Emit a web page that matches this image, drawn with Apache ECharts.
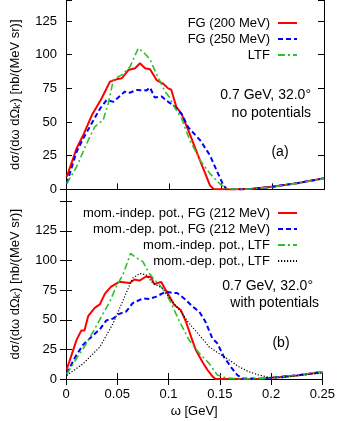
<!DOCTYPE html>
<html>
<head>
<meta charset="utf-8">
<script src="https://cdn.jsdelivr.net/npm/echarts@6/dist/echarts.min.js"></script>
<style>
  html, body { margin: 0; padding: 0; background: #fff; }
  #chart { width: 338px; height: 421px; }
</style>
</head>
<body>
<div id="chart"></div>
<script>
// panel (a): no potentials
const fg200 = [
  [0.0007, 9.4], [0.0103, 30.5], [0.0168, 40.4], [0.025, 55], [0.0346, 67.7], [0.0426, 80],
  [0.049, 81.7], [0.054, 82.5], [0.0604, 88.6], [0.067, 89.9], [0.0717, 93.6], [0.0766, 89.9],
  [0.0814, 89.2], [0.088, 81], [0.094, 78.6], [0.099, 75], [0.102, 74], [0.107, 61], [0.112, 56],
  [0.12, 41], [0.128, 25], [0.135, 11.7], [0.1395, 3], [0.143, 0.3], [0.16, 0], [0.18, 0.5],
  [0.2, 2], [0.225, 4.8], [0.25, 8.2]
];
const fg250 = [
  [0.0007, 4.4], [0.0103, 28], [0.0168, 38], [0.023, 46.4], [0.033, 60], [0.0394, 66.4],
  [0.046, 65], [0.057, 72.6], [0.0604, 71.4], [0.0685, 73.8], [0.078, 73.5], [0.0814, 75.6],
  [0.086, 68.2], [0.0927, 69], [0.099, 65], [0.104, 62.5], [0.112, 56], [0.1185, 46],
  [0.13, 36.5], [0.1395, 25.3], [0.146, 14], [0.1525, 3], [0.1557, 0.3], [0.17, 0], [0.18, 0.5],
  [0.2, 2], [0.225, 4.8], [0.25, 8.2]
];
const ltf = [
  [0.0007, 4.2], [0.0103, 16.8], [0.02, 34], [0.028, 46.6], [0.036, 51.5], [0.041, 64],
  [0.046, 81.6], [0.054, 85], [0.062, 91], [0.07, 104.8], [0.075, 102], [0.0814, 96.5],
  [0.088, 85], [0.096, 72.6], [0.101, 67.7], [0.104, 62.5], [0.112, 52.6], [0.12, 36.5],
  [0.13, 21.6], [0.1395, 11.7], [0.149, 4.2], [0.1557, 0.5], [0.17, 0], [0.18, 0.5],
  [0.2, 1.8], [0.225, 4.6], [0.25, 8]
];

// panel (b): with potentials
const indepFg = [
  [0.0007, 8], [0.0103, 33], [0.015, 41], [0.018, 41], [0.0216, 53], [0.028, 60], [0.033, 63],
  [0.038, 72], [0.044, 78], [0.052, 82], [0.062, 81], [0.067, 84], [0.0717, 83], [0.078, 86.5],
  [0.083, 86], [0.086, 80], [0.0927, 82], [0.096, 77], [0.101, 69.5], [0.1056, 62.5],
  [0.112, 58.2], [0.117, 48.3], [0.122, 35.5], [0.1266, 24.5], [0.133, 14.6], [0.138, 7.6],
  [0.143, 2], [0.146, 0], [0.19, 0.3], [0.2, 1], [0.225, 3], [0.25, 6]
];
const depFg = [
  [0.0007, 4.8], [0.01, 20], [0.0168, 29], [0.0265, 37], [0.033, 42], [0.0394, 49.5],
  [0.046, 51], [0.052, 55], [0.0588, 57], [0.065, 64], [0.075, 68], [0.081, 67.6],
  [0.088, 69.5], [0.0975, 73.7], [0.104, 72.5], [0.1085, 72.5], [0.117, 66.7], [0.1233, 61.2],
  [0.13, 56.8], [0.136, 48.3], [0.1427, 34.3], [0.1476, 30.1], [0.154, 18.7], [0.1606, 10.4],
  [0.167, 3.4], [0.1718, 0.5], [0.19, 0.3], [0.2, 1], [0.225, 3], [0.25, 6]
];
const indepLtf = [
  [0.0007, 4], [0.01, 17], [0.02, 30], [0.0297, 45], [0.036, 55], [0.0426, 65], [0.049, 78],
  [0.0555, 88], [0.063, 106], [0.0668, 103.3], [0.075, 99], [0.081, 89.3], [0.088, 82.2],
  [0.094, 76.6], [0.101, 66.7], [0.11, 49.8], [0.12, 33], [0.13, 21.7], [0.1395, 13.2],
  [0.1476, 3.4], [0.1557, 1], [0.17, 0], [0.19, 0.3], [0.2, 1], [0.225, 3], [0.25, 6]
];
const depLtf = [
  [0.0007, 3], [0.0168, 13], [0.033, 27], [0.046, 47], [0.0555, 66], [0.065, 85], [0.0717, 89],
  [0.078, 88], [0.0846, 81], [0.094, 76.6], [0.0975, 72.4], [0.104, 65.1], [0.112, 56.8],
  [0.12, 47], [0.13, 37.1], [0.1395, 27.2], [0.149, 21.7], [0.159, 16.1], [0.1686, 10.4],
  [0.178, 6.2], [0.188, 3.4], [0.198, 1.4], [0.211, 1], [0.225, 2.8], [0.25, 5]
];

const xTicks = { min: 0, max: 0.25, interval: 0.05 };
// top panel is cut off at the top edge of the figure
const yTicksTop = { min: 0, max: 140.6, interval: 25 };
const yTicksBottom = { min: 0, max: 160, interval: 25 };

const FONT = 'Liberation Sans, Arial, sans-serif';
const yName = 'dσ/(dω dΩ{sub|k\'}) [nb/(MeV sr)]';

const chart = echarts.init(document.getElementById('chart'), null, { renderer: 'canvas' });

const tick = { show: true, inside: true, length: 6, lineStyle: { color: '#000', width: 1 } };
const line = { show: true, lineStyle: { color: '#000', width: 1 } };

function xAxis(grid, pos, labels, extra) {
  return Object.assign({
    type: 'value', gridIndex: grid, position: pos, ...xTicks,
    axisLine: line, axisTick: tick, splitLine: { show: false },
    axisLabel: { show: labels, color: '#000', fontSize: 13, fontFamily: FONT, margin: 9 }
  }, extra || {});
}
function yAxis(grid, pos, labels, ticks, extra) {
  return Object.assign({
    type: 'value', gridIndex: grid, position: pos, ...ticks,
    axisLine: line, axisTick: tick, splitLine: { show: false },
    axisLabel: {
      show: labels, color: '#000', fontSize: 13, fontFamily: FONT, margin: 9,
      formatter: (v) => (v <= 125 ? String(v) : '')
    }
  }, extra || {});
}
const yNameOpts = {
  name: yName, nameLocation: 'middle', nameGap: 44, nameRotate: 90,
  nameTextStyle: {
    color: '#000', fontSize: 13, fontFamily: FONT,
    rich: { sub: { fontSize: 9, fontFamily: FONT, color: '#000', verticalAlign: 'bottom', padding: [5, 0, 0, 0] } }
  }
};

function series(name, data, xi, yi, color, width, type) {
  return {
    name, type: 'line', data, xAxisIndex: xi, yAxisIndex: yi,
    symbol: 'none', showSymbol: false, smooth: false,
    itemStyle: { color },
    lineStyle: { color, width, type }
  };
}

const RED = '#ff0000', BLUE = '#0000ff', GREEN = '#2fbf2f', BLACK = '#000000';
const dashed = [5, 3], dashDot = [7, 3, 2, 3], dotted = [1.2, 1.8];

const legendBase = {
  orient: 'vertical', align: 'right', right: 35, itemWidth: 19, itemHeight: 14, itemGap: 2,
  itemStyle: { opacity: 0, borderWidth: 0 },
  textStyle: { color: '#000', fontSize: 13, fontFamily: FONT, lineHeight: 14, padding: [0, 3, 0, 0] },
  inactiveColor: '#000'
};

function label(text, x, y, align) {
  return {
    type: 'text', x, y,
    style: { text, fill: '#000', font: '14px ' + FONT, align: align || 'right', verticalAlign: 'middle' }
  };
}

chart.setOption({
  animation: false,
  backgroundColor: '#fff',
  grid: [
    { left: 66, right: 14, top: 0, height: 189.4 },
    { left: 66, right: 14, top: 189.4, height: 189.6 }
  ],
  xAxis: [
    xAxis(0, 'bottom', false),
    xAxis(1, 'bottom', true, {
      name: 'ω [GeV]', nameLocation: 'middle', nameGap: 26,
      nameTextStyle: { color: '#000', fontSize: 13, fontFamily: FONT }
    }),
    xAxis(1, 'top', false)
  ],
  yAxis: [
    yAxis(0, 'left', true, yTicksTop, yNameOpts),
    yAxis(0, 'right', false, yTicksTop),
    yAxis(1, 'left', true, yTicksBottom, yNameOpts),
    yAxis(1, 'right', false, yTicksBottom)
  ],
  legend: [
    Object.assign({}, legendBase, { top: 11, data: ['FG (200 MeV)', 'FG (250 MeV)', 'LTF'] }),
    Object.assign({}, legendBase, {
      top: 201,
      data: ['mom.-indep. pot., FG (212 MeV)', 'mom.-dep. pot., FG (212 MeV)',
             'mom.-indep. pot., LTF', 'mom.-dep. pot., LTF']
    })
  ],
  graphic: [
    label('0.7 GeV, 32.0°', 311, 95),
    label('no potentials', 311, 113),
    label('(a)', 280, 152, 'center'),
    label('0.7 GeV, 32.0°', 313, 286),
    label('with potentials', 319, 303),
    label('(b)', 281, 343, 'center')
  ],
  series: [
    series('FG (200 MeV)', fg200, 0, 0, RED, 2, 'solid'),
    series('FG (250 MeV)', fg250, 0, 0, BLUE, 2, dashed),
    series('LTF', ltf, 0, 0, GREEN, 1.6, dashDot),
    series('mom.-indep. pot., FG (212 MeV)', indepFg, 1, 2, RED, 2, 'solid'),
    series('mom.-dep. pot., FG (212 MeV)', depFg, 1, 2, BLUE, 2, dashed),
    series('mom.-indep. pot., LTF', indepLtf, 1, 2, GREEN, 1.6, dashDot),
    series('mom.-dep. pot., LTF', depLtf, 1, 2, BLACK, 1.2, dotted)
  ]
});
</script>
</body>
</html>
